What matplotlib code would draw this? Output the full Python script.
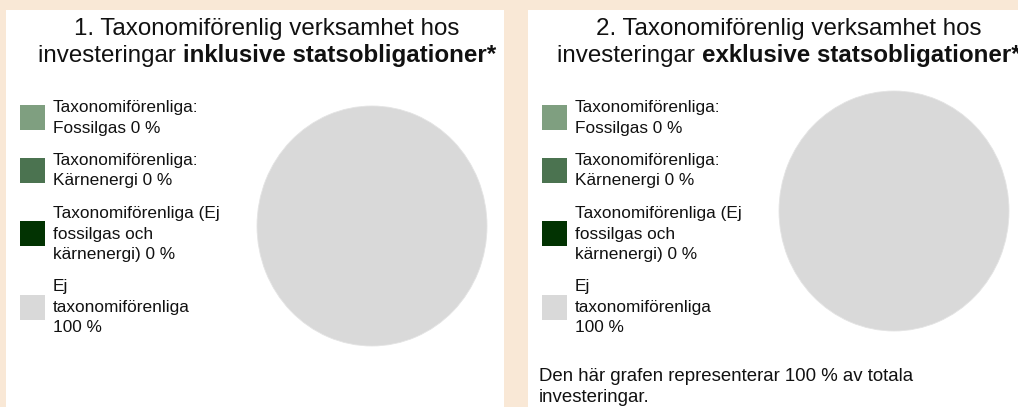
import matplotlib.pyplot as plt
from matplotlib.patches import Rectangle

# data
label_templates = [
    "Taxonomiförenliga:\nFossilgas {} %",
    "Taxonomiförenliga:\nKärnenergi {} %",
    "Taxonomiförenliga (Ej\nfossilgas och\nkärnenergi) {} %",
    "Ej\ntaxonomiförenliga\n{} %",
]
values_incl = [0, 0, 0, 100]
values_excl = [0, 0, 0, 100]
colors = ["#7f9f80", "#4b7350", "#023302", "#d9d9d9"]

title_num = ["1.", "2."]
title_bold = ["inklusive statsobligationer*", "exklusive statsobligationer*"]
footnote = "Den här grafen representerar 100 % av totala\ninvesteringar."

W, H = 1018, 407
FONT = "Liberation Sans"

fig = plt.figure(figsize=(W / 100, H / 100), dpi=100)
fig.patch.set_facecolor("#f9e8d6")
renderer = fig.canvas.get_renderer()


def fy(y):
    # pixel from top -> figure fraction
    return 1 - y / H


def txt(x, y, s, **kw):
    kw.setdefault("family", FONT)
    kw.setdefault("color", "#111111")
    return fig.text(x / W, fy(y), s, va="baseline", **kw)


def panel(x0, values, num, bold, pie_cy):
    fig.patches.append(Rectangle((x0 / W, 0), 498 / W, fy(10), transform=fig.transFigure,
                                 facecolor="white", edgecolor="none", zorder=-2))
    # title
    cx = x0 + 261
    txt(cx, 35, f"{num} Taxonomiförenlig verksamhet hos", fontsize=17.4, ha="center")
    t1 = txt(0, 62, "investeringar ", fontsize=17.4)
    t2 = txt(0, 62, bold, fontsize=17.4, weight="bold")
    w1 = t1.get_window_extent(renderer).width
    w2 = t2.get_window_extent(renderer).width
    left = cx - (w1 + w2) / 2
    t1.set_x(left / W)
    t2.set_x((left + w1) / W)

    # legend
    base = 112
    for tmpl, v, c in zip(label_templates, values, colors):
        lines = tmpl.format(v).split("\n")
        for i, ln in enumerate(lines):
            txt(x0 + 47, base + i * 20.5, ln, fontsize=12.4)
        sq_c = base + (len(lines) - 1) * 10.25 - 5
        fig.patches.append(Rectangle(((x0 + 14) / W, fy(sq_c + 12.5)), 25 / W, 25 / H,
                                     transform=fig.transFigure, facecolor=c,
                                     edgecolor="none", zorder=1))
        base += len(lines) * 20.5 + 12

    # pie
    cxp = x0 + 366
    ax = fig.add_axes([(cxp - 115) / W, fy(pie_cy + 120), 230 / W, 240 / H])
    ax.pie(values, colors=colors, startangle=90, counterclock=False, radius=1,
           wedgeprops=dict(edgecolor="#e4e4e4", linewidth=0.6))
    ax.set_aspect("auto")
    ax.set_xlim(-1, 1)
    ax.set_ylim(-1, 1)
    ax.axis("off")


panel(6, values_incl, title_num[0], title_bold[0], 226)
panel(528, values_excl, title_num[1], title_bold[1], 211)

for i, ln in enumerate(footnote.split("\n")):
    txt(539, 381 + i * 20.5, ln, fontsize=13.4)

plt.savefig("out.png", dpi=100, facecolor=fig.get_facecolor())
